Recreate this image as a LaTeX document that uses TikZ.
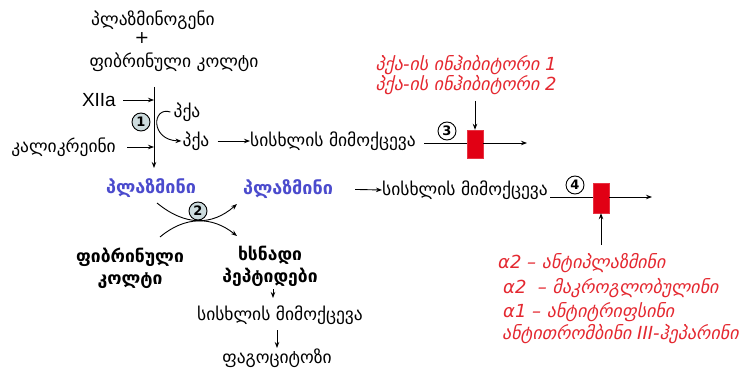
\documentclass[tikz,border=0pt]{standalone}
\usepackage{fontspec}
\setmainfont{DejaVu Sans}
\newfontfamily\arialf{Liberation Sans}
\usetikzlibrary{arrows.meta}
\definecolor{plblue}{RGB}{75,75,205}
\definecolor{inhred}{RGB}{228,40,48}
\definecolor{boxred}{RGB}{225,0,20}
\definecolor{circfill}{RGB}{205,220,222}
\tikzset{
  gtext/.style={inner sep=0pt, font=\fontsize{17.5}{20}\selectfont},
  bluetext/.style={gtext, text=plblue, font=\fontsize{18}{20}\selectfont\bfseries},
  boldtext/.style={gtext, align=center, font=\fontsize{17.5}{22}\selectfont\bfseries},
  redtext/.style={inner sep=0pt, text=inhred, font=\fontsize{18}{20}\selectfont\itshape},
  arr/.style={-{Stealth[length=6pt,width=4.5pt]}, line width=0.9pt},
  plainline/.style={line width=0.9pt},
  numc/.style={circle, draw, line width=0.9pt, minimum size=18pt, inner sep=0pt, font=\fontsize{13}{13}\selectfont\bfseries},
  inhbox/.style={draw=boxred!80!white, fill=boxred, minimum width=16pt, minimum height=28pt, inner sep=0pt},
}
\begin{document}
\begin{tikzpicture}[x=1pt,y=-1pt]
\useasboundingbox (0,0) rectangle (741,374);
% top
\node[gtext] (plg) at (153,20) {პლაზმინოგენი};
\node[gtext] (plus) at (142,38) {+};
\node[gtext] (fk) at (174,62) {ფიბრინული კოლტი};
% reaction 1
\coordinate (vtop) at (154,87);
\coordinate (vbot) at (154,168);
\draw[arr] (vtop) -- (vbot);
\node[inner sep=0pt, anchor=east, font=\arialf\fontsize{19}{19}\selectfont] (xii) at (116,100) {XIIa};
\draw[arr, shorten <=7pt] (xii.east) -- (vtop |- xii);
\node[gtext, anchor=east] (kal) at (116,147) {კალიკრეინი};
\draw[arr, shorten <=11pt] (kal.east) -- (vtop |- kal);
\node[numc, fill=circfill] (c1) at (141,122) {1};
\node[gtext] (pka1) at (187,112) {პქა};
\node[gtext] (pka2) at (196,141) {პქა};
\draw[arr] ([xshift=-3pt]pka1.west) .. controls (152,106) and (150,140) .. ([xshift=-1pt]pka2.west);
\node[gtext, anchor=west] (ss1) at (250,141) {სისხლის მიმოქცევა};
\draw[arr, shorten <=8pt] (pka2.east) -- (ss1.west);
% inhibition 3
\node[inhbox] (b3) at (475,144) {};
\coordinate (e3) at (527,143);
\draw[plainline] ([xshift=8pt]ss1.east |- e3) -- (b3.west |- e3);
\draw[arr] (b3.east |- e3) -- (e3);
\node[numc] (c3) at (447,131) {3};
\node[redtext, align=center] (inh) at (466,75) {პქა-ის ინჰიბიტორი 1\\პქა-ის ინჰიბიტორი 2};
\draw[arr] ([yshift=-6pt]inh.south -| b3) -- (b3.north);
% plasmin
\node[bluetext] (pl1) at (151,188) {პლაზმინი};
\node[bluetext] (pl2) at (288,189) {პლაზმინი};
\node[gtext, anchor=west] (ss2) at (382,190) {სისხლის მიმოქცევა};
\draw[arr, shorten <=22pt] (pl2.east) -- (ss2.west);
\node[inhbox, minimum height=30pt] (b4) at (601,198) {};
\coordinate (e4) at (652,197);
\draw[plainline] ([xshift=2pt]ss2.east |- e4) -- (b4.west |- e4);
\draw[arr] (b4.east |- e4) -- (e4);
\node[numc] (c4) at (575,185) {4};
% reaction 2
\node[boldtext] (fk2) at (130,268) {ფიბრინული\\კოლტი};
\node[boldtext] (sp) at (270,266) {ხსნადი\\პეპტიდები};
\draw[arr] (157,203) .. controls (185,226) and (212,226) .. (237,204);
\draw[arr] (160,237) .. controls (185,216) and (212,216) .. (237,236);
\node[numc, fill=circfill] (c2) at (198,211) {2};
% lower chain
\node[gtext] (ss3) at (280,315) {სისხლის მიმოქცევა};
\draw[arr] (273,289) -- (273,298);
\node[gtext] (phag) at (277,358) {ფაგოციტოზი};
\draw[arr] (277,330) -- (277,348);
% inhibitors of plasmin
\node[redtext, anchor=west] (a1) at (498,263) {α2 – ანტიპლაზმინი};
\node[redtext, anchor=west] (a2) at (503,288) {α2 \ – მაკროგლობულინი};
\node[redtext, anchor=west] (a3) at (503,312) {α1 – ანტიტრიფსინი};
\node[redtext, anchor=west] (a4) at (502,334) {ანტითრომბინი III-ჰეპარინი};
\draw[arr] (601,245) -- (b4.south);
\end{tikzpicture}
\end{document}
